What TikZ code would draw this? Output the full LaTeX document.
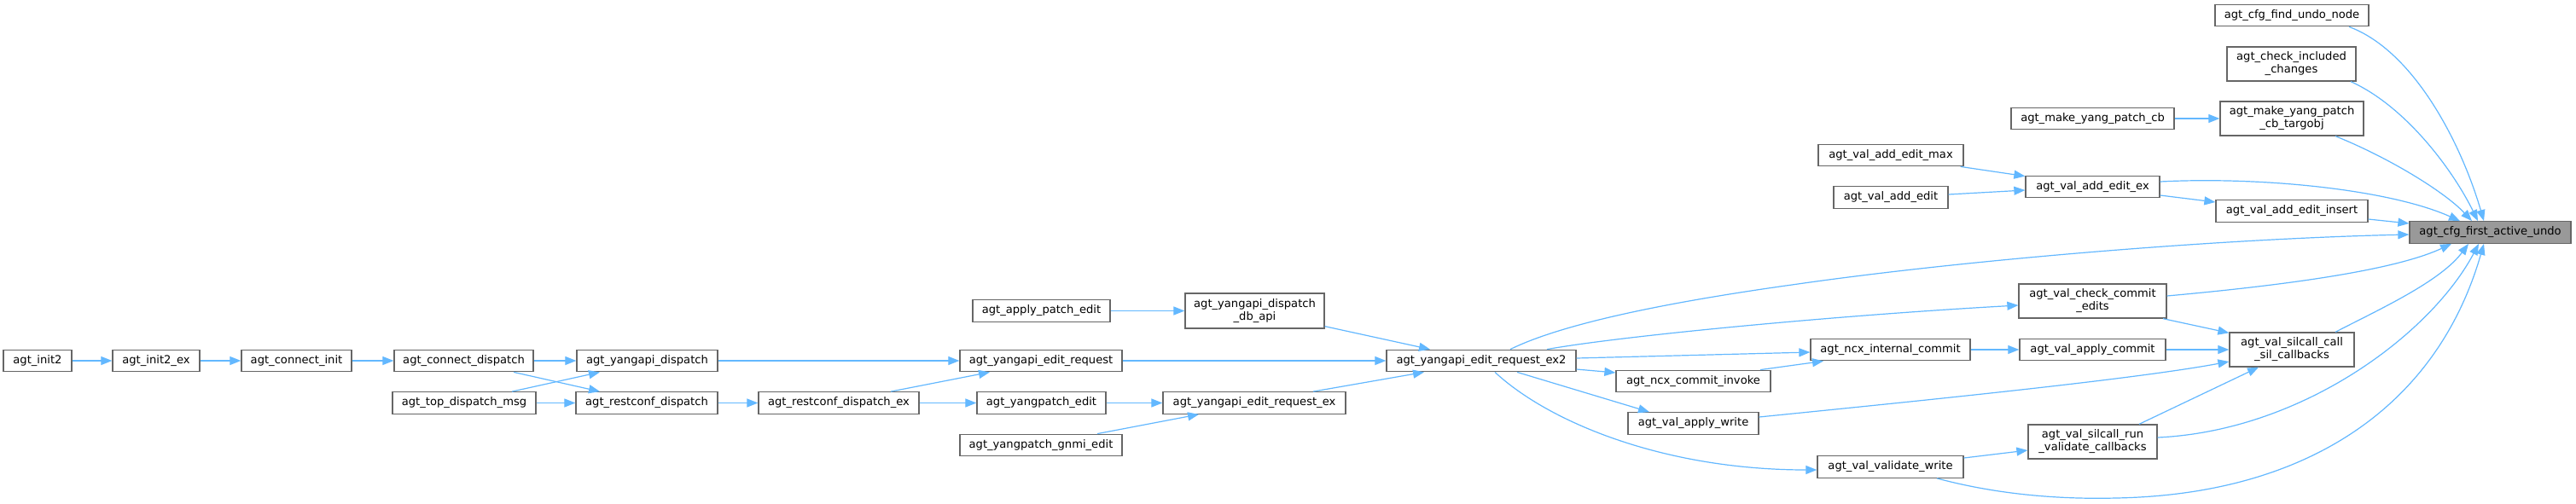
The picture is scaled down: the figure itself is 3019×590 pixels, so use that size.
\documentclass[tikz,border=0pt]{standalone}
\usepackage{fontspec}
\setmainfont{DejaVu Sans}
\usetikzlibrary{arrows.meta}
\definecolor{edgeblue}{HTML}{63B8FF}
\definecolor{boxgray}{HTML}{666666}
\definecolor{hlgray}{HTML}{999999}
\begin{document}
\begin{tikzpicture}[x=1pt,y=-1pt,
 fn/.style={draw=boxgray,line width=1.3pt,fill=white,inner sep=0pt,align=center,
   font=\fontsize{13.1}{15}\selectfont,minimum height=25.5pt},
 hl/.style={fn,fill=hlgray},
 call/.style={draw=edgeblue,line width=1.2pt,-{Triangle[length=13pt,width=10pt]}}]
\path[use as bounding box,fill=white] (0,0) rectangle (3019,590);

% nodes
\node[fn,minimum width=80pt] (init2) at (44,423) {agt\_init2};
\node[fn,minimum width=102pt] (init2ex) at (183,423) {agt\_init2\_ex};
\node[fn,minimum width=129pt] (conninit) at (347.5,423) {agt\_connect\_init};
\node[fn,minimum width=163pt] (conndisp) at (543.5,423) {agt\_connect\_dispatch};
\node[fn,minimum width=168pt] (topdisp) at (544,472.5) {agt\_top\_dispatch\_msg};
\node[fn,minimum width=165pt] (yadisp) at (758.5,423) {agt\_yangapi\_dispatch};
\node[fn,minimum width=166pt] (rcdisp) at (758,472.5) {agt\_restconf\_dispatch};
\node[fn,minimum width=188pt] (rcdispex) at (983,472.5) {agt\_restconf\_dispatch\_ex};
\node[fn,minimum width=161pt] (applypatch) at (1220.5,364.5) {agt\_apply\_patch\_edit};
\node[fn,minimum width=163pt,minimum height=41pt] (dbapi) at (1470.5,364.5) {agt\_yangapi\_dispatch\\\_db\_api};
\node[fn,minimum width=190pt] (yaer) at (1220,423) {agt\_yangapi\_edit\_request};
\node[fn,minimum width=151pt] (ypedit) at (1220.5,472.5) {agt\_yangpatch\_edit};
\node[fn,minimum width=214pt] (yaerex) at (1470,472.5) {agt\_yangapi\_edit\_request\_ex};
\node[fn,minimum width=190pt] (gnmi) at (1220,522) {agt\_yangpatch\_gnmi\_edit};
\node[fn,minimum width=222pt] (ex2) at (1736,423) {agt\_yangapi\_edit\_request\_ex2};
\node[fn,minimum width=181pt] (ncxinv) at (1984.5,447) {agt\_ncx\_commit\_invoke};
\node[fn,minimum width=153pt] (applywrite) at (1984.5,496.5) {agt\_val\_apply\_write};
\node[fn,minimum width=187pt] (ncxint) at (2215.5,410) {agt\_ncx\_internal\_commit};
\node[fn,minimum width=171pt] (valwrite) at (2215.5,547.5) {agt\_val\_validate\_write};
\node[fn,minimum width=173pt,minimum height=40pt] (checkcommit) at (2452.5,353) {agt\_val\_check\_commit\\\_edits};
\node[fn,minimum width=171pt] (applycommit) at (2452.5,410) {agt\_val\_apply\_commit};
\node[fn,minimum width=151pt,minimum height=40pt] (runval) at (2452.5,518) {agt\_val\_silcall\_run\\\_validate\_callbacks};
\node[fn,minimum width=146pt,minimum height=40pt] (silcall) at (2686,410) {agt\_val\_silcall\_call\\\_sil\_callbacks};
\node[fn,minimum width=170pt] (addmax) at (2216,182) {agt\_val\_add\_edit\_max};
\node[fn,minimum width=134pt] (addedit) at (2216,231.5) {agt\_val\_add\_edit};
\node[fn,minimum width=157pt] (addex) at (2452.5,219) {agt\_val\_add\_edit\_ex};
\node[fn,minimum width=191pt] (mkpatch) at (2452.5,139) {agt\_make\_yang\_patch\_cb};
\node[fn,minimum width=168pt,minimum height=40pt] (targobj) at (2686,139) {agt\_make\_yang\_patch\\\_cb\_targobj};
\node[fn,minimum width=151pt,minimum height=40pt] (chkincl) at (2685.5,75) {agt\_check\_included\\\_changes};
\node[fn,minimum width=180pt] (findundo) at (2686,18) {agt\_cfg\_find\_undo\_node};
\node[fn,minimum width=178pt] (addins) at (2686,247.5) {agt\_val\_add\_edit\_insert};
\node[hl,minimum width=189pt] (first) at (2918.5,272.5) {agt\_cfg\_first\_active\_undo};

% connectors
\draw[call] (init2) -- (init2ex);
\draw[call] (init2ex) -- (conninit);
\draw[call] (conninit) -- (conndisp);
\draw[call] (conndisp) -- (yadisp);
\draw[call] ([xshift=58.5pt]conndisp.south) -- ([xshift=-55pt]rcdisp.north);
\draw[call] ([xshift=56pt]topdisp.north) -- ([xshift=-55.5pt]yadisp.south);
\draw[call] (topdisp) -- (rcdisp);
\draw[call] (yadisp) -- (yaer);
\draw[call] (rcdisp) -- (rcdispex);
\draw[call] ([xshift=61pt]rcdispex.north) -- ([xshift=-60pt]yaer.south);
\draw[call] (rcdispex) -- (ypedit);
\draw[call] (applypatch) -- (dbapi);
\draw[call] ([yshift=3pt]dbapi.south east) -- ([xshift=-60pt]ex2.north);
\draw[call] (yaer) -- (ex2);
\draw[call] ([xshift=69pt]yaerex.north) -- ([xshift=-67pt]ex2.south);
\draw[call] (ypedit) -- (yaerex);
\draw[call] ([xshift=66pt]gnmi.north) -- ([xshift=-65pt]yaerex.south);
\draw[call] ([xshift=34pt]ex2.north) .. controls (1830,380) and (1950,355) .. (2100,334)
   .. controls (2300,305) and (2600,280) .. ([yshift=-2.5pt]first.west);
\draw[call] ([xshift=77pt]ex2.north) .. controls (1900,394) and (2150,370) .. ([yshift=-5pt]checkcommit.west);
\draw[call] ([yshift=3pt]ex2.east) -- ([yshift=-3pt]ncxint.west);
\draw[call] ([yshift=-10pt]ex2.east) -- ([yshift=10pt]ncxinv.west);
\draw[call] ([xshift=42pt]ex2.south) -- ([xshift=-51.5pt]applywrite.north);
\draw[call] ([xshift=16pt]ex2.south) .. controls (1815,495) and (1950,551) .. ([yshift=-3.5pt]valwrite.west);
\draw[call] ([xshift=78.5pt]ncxinv.north) -- ([xshift=-78.5pt]ncxint.south);
\draw[call] (ncxint) -- (applycommit);
\draw[call] (applycommit) -- (silcall);
\draw[call] ([xshift=82.5pt]checkcommit.south) -- ([yshift=-1pt]silcall.north west);
\draw[call] ([yshift=6pt]checkcommit.east) .. controls (2650,337) and (2800,320) .. ([xshift=-45.5pt]first.south);
\draw[call] ([yshift=7.5pt]applywrite.east) .. controls (2250,470) and (2500,445) .. ([yshift=-14pt]silcall.west);
\draw[call] ([yshift=10.5pt]valwrite.east) -- ([yshift=-10pt]runval.west);
\draw[call] ([xshift=54.5pt]valwrite.south) .. controls (2330,577) and (2400,586) .. (2480,584)
   .. controls (2700,580) and (2855,480) .. ([xshift=-7.5pt]first.south);
\draw[call] ([xshift=54.5pt]runval.north) -- ([xshift=-39pt]silcall.south);
\draw[call] ([yshift=5pt]runval.east) .. controls (2700,505) and (2850,390) .. ([xshift=-13.5pt]first.south);
\draw[call] ([xshift=51pt]silcall.north) .. controls (2790,362) and (2860,330) .. ([xshift=-25.5pt]first.south);
\draw[call] ([xshift=67pt]findundo.south) .. controls (2830,60) and (2885,170) .. ([xshift=-7.5pt]first.north);
\draw[call] ([xshift=69.5pt]chkincl.south) .. controls (2820,125) and (2875,200) .. ([xshift=-14.5pt]first.north);
\draw[call] (mkpatch) -- (targobj);
\draw[call] ([xshift=51pt]targobj.south) .. controls (2800,185) and (2865,225) .. ([xshift=-21.5pt]first.north);
\draw[call] ([xshift=-4pt]addmax.south east) -- ([yshift=-1pt]addex.north west);
\draw[call] ([yshift=3.5pt]addedit.east) -- ([yshift=-4pt]addex.west);
\draw[call] ([yshift=6pt]addex.east) .. controls (2650,207) and (2800,222) .. ([xshift=-35.5pt]first.north);
\draw[call] ([yshift=-10pt]addex.east) -- ([yshift=10.5pt]addins.west);
\draw[call] ([yshift=-9.5pt]addins.east) -- ([yshift=10.5pt]first.west);
\end{tikzpicture}
\end{document}
